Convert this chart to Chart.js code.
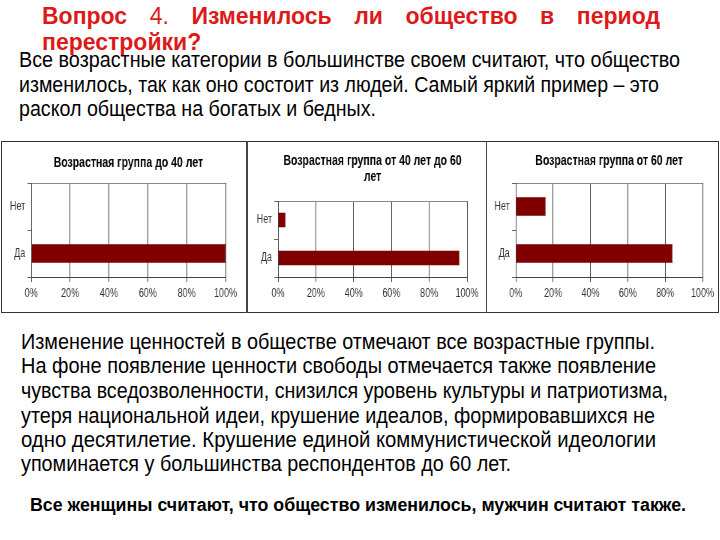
<!DOCTYPE html>
<html>
<head>
<meta charset="utf-8">
<script src="https://cdn.jsdelivr.net/npm/chart.js@4/dist/chart.umd.min.js"></script>
<style>
  body { margin: 0; background: #fff; }
  #slide { position: relative; width: 720px; height: 540px; overflow: hidden; font-family: 'Liberation Sans', Arial, sans-serif; }
  .line { position: absolute; white-space: nowrap; color: #000; transform-origin: 0 0; }
  .title { position: absolute; left: 42px; width: 618px; color: #dd1a1a; font: bold 23px 'Liberation Sans', Arial, sans-serif; white-space: nowrap; }
  .title.first { text-align: justify; text-align-last: justify; white-space: normal; }
  .title .n { font-weight: normal; }
  .para { font-size: 22px; line-height: 24px; }
  .bold { font-size: 18px; line-height: 24px; font-weight: bold; }
  #frame { position: absolute; left: 1px; top: 141px; width: 716px; height: 170px; border: 1px solid #333; }
  canvas { position: absolute; transform-origin: 0 0; transform: scaleX(0.75); }
  .div { position: absolute; top: 141px; height: 172px; width: 2px; background: #444; }
</style>
</head>
<body>
<div id="slide">
  <div class="title first" style="top:3px;">Вопрос <span class="n">4.</span> Изменилось ли общество в период</div>
  <div class="title" style="top:29px;">перестройки?</div>

  <div class="line para" data-w="661" style="left:19px; top:48px;">Все возрастные категории в большинстве своем считают, что общество</div>
  <div class="line para" data-w="640" style="left:19px; top:73px;">изменилось, так как оно состоит из людей. Самый яркий пример – это</div>
  <div class="line para" data-w="357" style="left:19px; top:97px;">раскол общества на богатых и бедных.</div>

  <div id="frame"></div>
  <div class="div" style="left:246px;"></div>
  <div class="div" style="left:486px; width:1px;"></div>
  <canvas id="c1" width="325" height="170" style="left:2px; top:142px;"></canvas>
  <canvas id="c2" width="317" height="170" style="left:248px; top:142px;"></canvas>
  <canvas id="c3" width="307" height="170" style="left:488px; top:142px;"></canvas>

  <div class="line para" data-w="634" style="left:21px; top:330px;">Изменение ценностей в обществе отмечают все возрастные группы.</div>
  <div class="line para" data-w="635" style="left:21px; top:354px;">На фоне появление ценности свободы отмечается также появление</div>
  <div class="line para" data-w="647" style="left:21px; top:379px;">чувства вседозволенности, снизился уровень культуры и патриотизма,</div>
  <div class="line para" data-w="634" style="left:21px; top:404px;">утеря национальной идеи, крушение идеалов, формировавшихся не</div>
  <div class="line para" data-w="635" style="left:21px; top:428px;">одно десятилетие. Крушение единой коммунистической идеологии</div>
  <div class="line para" data-w="490" style="left:21px; top:452px;">упоминается у большинства респондентов до 60 лет.</div>

  <div class="line bold" data-w="656" style="left:30px; top:493px;">Все женщины считают, что общество изменилось, мужчин считают также.</div>
</div>
<script>
const categories = ['Нет', 'Да'];
const under40 = [0, 100];
const from40to60 = [4, 96];
const over60 = [16, 84];
const xTicks = [0, 20, 40, 60, 80, 100];

// narrow text like the slide's Arial Narrow
document.querySelectorAll('[data-w]').forEach(el => {
  const w = el.getBoundingClientRect().width;
  el.style.transform = 'scaleX(' + (el.dataset.w / w) + ')';
});

Chart.defaults.font.family = "'Liberation Sans', Arial, sans-serif";
Chart.defaults.color = '#222';

function makeChart(id, title, values, pad) {
  const ctx = document.getElementById(id).getContext('2d');
  return new Chart(ctx, {
    type: 'bar',
    data: {
      labels: categories,
      datasets: [{
        data: values,
        backgroundColor: '#800000',
        borderColor: '#5c0000',
        borderWidth: 0.5,
        barPercentage: 0.5,
        categoryPercentage: 0.8
      }]
    },
    options: {
      indexAxis: 'y',
      responsive: false,
      animation: false,
      devicePixelRatio: 1,
      layout: { padding: { left: 0, right: pad.right, top: 0, bottom: 0 } },
      plugins: {
        legend: { display: false },
        tooltip: { enabled: false },
        title: {
          display: true,
          fullSize: false,
          text: title,
          color: '#000',
          font: { size: 14, weight: 'bold', lineHeight: 16 / 14 },
          padding: { top: pad.top, bottom: pad.bottom }
        }
      },
      scales: {
        x: {
          min: 0,
          max: 100,
          afterBuildTicks: s => { s.ticks = xTicks.map(v => ({ value: v })); },
          afterFit: s => { s.height = 35; },
          ticks: { callback: v => v + '%', font: { size: 12 }, padding: 4, color: '#333' },
          grid: { color: '#444', tickLength: 5, tickColor: '#444' },
          border: { color: '#444' }
        },
        y: {
          afterFit: s => { s.width = pad.left; },
          ticks: { font: { size: 12 }, padding: 3, color: '#333' },
          grid: {
            color: c => c.index === 1 ? 'rgba(0,0,0,0)' : '#888',
            tickColor: '#666',
            tickLength: 5
          },
          border: { color: '#444' }
        }
      }
    }
  });
}

makeChart('c1', 'Возрастная группа до 40 лет', under40, { left: 39, right: 27, top: 13, bottom: 12 });
makeChart('c2', ['Возрастная группа от 40 лет до 60', 'лет'], from40to60, { left: 40, right: 25, top: 11, bottom: 16 });
makeChart('c3', 'Возрастная группа от 60 лет', over60, { left: 37, right: 21, top: 11, bottom: 14 });
</script>
</body>
</html>
